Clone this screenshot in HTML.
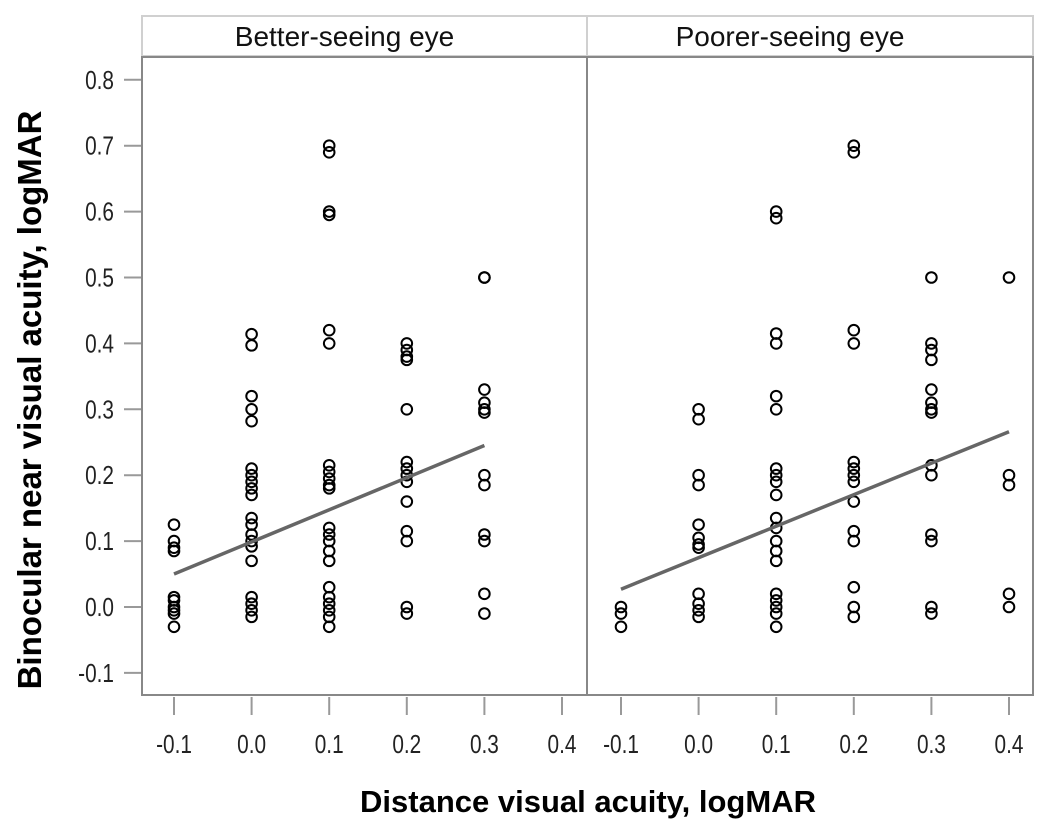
<!DOCTYPE html>
<html><head><meta charset="utf-8"><style>
html,body{margin:0;padding:0;background:#fff;}
svg{display:block;font-family:"Liberation Sans",sans-serif;}
</style></head><body>
<svg id="chart" width="1050" height="824" viewBox="0 0 1050 824">
<rect x="0" y="0" width="1050" height="824" fill="#fff"/>
<g id="g"></g>
</svg>
<script>
const yTicks=[0.8,0.7,0.6,0.5,0.4,0.3,0.2,0.1,0.0,-0.1];
const xTicks=[-0.1,0.0,0.1,0.2,0.3,0.4];
const panelTitles=["Better-seeing eye","Poorer-seeing eye"];
const betterX=[-0.1,-0.1,-0.1,-0.1,-0.1,-0.1,-0.1,-0.1,-0.1,-0.1,
0,0,0,0,0,0,0,0,0,0,0,0,0,0,0,0,0,0,0,0,
0.1,0.1,0.1,0.1,0.1,0.1,0.1,0.1,0.1,0.1,0.1,0.1,0.1,0.1,0.1,0.1,0.1,0.1,0.1,0.1,0.1,0.1,
0.2,0.2,0.2,0.2,0.2,0.2,0.2,0.2,0.2,0.2,0.2,0.2,0.2,0.2,
0.3,0.3,0.3,0.3,0.3,0.3,0.3,0.3,0.3,0.3,0.3,0.3];
const betterY=[0.125,0.1,0.09,0.085,0.015,0.01,0,-0.005,-0.01,-0.03,
0.414,0.397,0.32,0.30,0.282,0.21,0.2,0.19,0.18,0.17,0.135,0.125,0.11,0.1,0.092,0.07,0.015,0.005,-0.005,-0.015,
0.7,0.69,0.6,0.595,0.42,0.4,0.215,0.205,0.195,0.185,0.18,0.12,0.11,0.1,0.085,0.07,0.03,0.015,0.005,-0.005,-0.015,-0.03,
0.4,0.39,0.38,0.375,0.3,0.22,0.21,0.2,0.19,0.16,0.115,0.1,0.0,-0.01,
0.5,0.5,0.33,0.31,0.3,0.295,0.2,0.185,0.11,0.1,0.02,-0.01];
const poorerX=[-0.1,-0.1,-0.1,
0,0,0,0,0,0,0,0,0,0,0,0,
0.1,0.1,0.1,0.1,0.1,0.1,0.1,0.1,0.1,0.1,0.1,0.1,0.1,0.1,0.1,0.1,0.1,0.1,0.1,0.1,
0.2,0.2,0.2,0.2,0.2,0.2,0.2,0.2,0.2,0.2,0.2,0.2,0.2,0.2,
0.3,0.3,0.3,0.3,0.3,0.3,0.3,0.3,0.3,0.3,0.3,0.3,0.3,0.3,
0.4,0.4,0.4,0.4,0.4];
const poorerY=[0.0,-0.01,-0.03,
0.3,0.285,0.2,0.185,0.125,0.105,0.095,0.09,0.02,0.005,-0.005,-0.015,
0.6,0.59,0.415,0.4,0.32,0.30,0.21,0.2,0.19,0.17,0.135,0.12,0.1,0.085,0.07,0.02,0.01,0.0,-0.01,-0.03,
0.7,0.69,0.42,0.40,0.22,0.21,0.2,0.19,0.16,0.115,0.1,0.03,0.0,-0.015,
0.5,0.4,0.39,0.375,0.33,0.31,0.3,0.295,0.215,0.2,0.11,0.1,0.0,-0.01,
0.5,0.2,0.185,0.02,0.0];
const betterFit=[[-0.1,0.05],[0.3,0.245]];
const poorerFit=[[-0.1,0.027],[0.4,0.266]];

const NS="http://www.w3.org/2000/svg";
const g=document.getElementById('g');
function el(t,a,p){const e=document.createElementNS(NS,t);for(const k in a)e.setAttribute(k,a[k]);(p||g).appendChild(e);return e;}
const plotTop=57,plotBot=695;
function yS(v){return 607-v*659;}
const panels=[{x0:142,x1:587,xm:174,data:[betterX,betterY],fit:betterFit,name:'better'},
              {x0:587,x1:1033,xm:621,data:[poorerX,poorerY],fit:poorerFit,name:'poorer'}];
const xStep=77.6;
panels.forEach((p,pi)=>{
  const xS=v=>p.xm+(v+0.1)*10*xStep;
  const h=el('rect',{x:p.x0,y:16,width:p.x1-p.x0,height:40,fill:'#fff',stroke:'#d0d0d0','stroke-width':2});
  
  
  const t=el('text',{x:(p.x0+p.x1)/2-20,y:46,'text-anchor':'middle','font-size':28,fill:'#111'});
  t.textContent=panelTitles[pi];
  
  
  const r=el('rect',{x:p.x0,y:plotTop,width:p.x1-p.x0,height:plotBot-plotTop,fill:'none',stroke:'#888','stroke-width':2});
  
  
  xTicks.forEach(v=>{
    const tk=el('line',{x1:xS(v),x2:xS(v),y1:697,y2:715,stroke:'#999','stroke-width':2});
    
    
    const lb=el('text',{x:0,y:0,transform:`translate(${xS(v)},753) scale(0.8,1)`,'text-anchor':'middle','font-size':26,fill:'#222'});
    lb.textContent=v.toFixed(1);
    
    
  });
  const [xs,ys]=p.data;
  xs.forEach((xv,i)=>{
    const c=el('circle',{cx:xS(xv),cy:yS(ys[i]),r:5.3,fill:'none',stroke:'#000','stroke-width':2});
    
    
  });
  const f=el('line',{x1:xS(p.fit[0][0]),y1:yS(p.fit[0][1]),x2:xS(p.fit[1][0]),y2:yS(p.fit[1][1]),stroke:'#666','stroke-width':3.5});
  
  
});
yTicks.forEach(v=>{
  const tk=el('line',{x1:124,x2:141,y1:yS(v),y2:yS(v),stroke:'#999','stroke-width':2});
  
  
  const lb=el('text',{x:0,y:0,transform:`translate(114,${yS(v)+9}) scale(0.8,1)`,'text-anchor':'end','font-size':26,fill:'#222'});
  lb.textContent=v.toFixed(1);
  
  
});
const yt=el('text',{x:0,y:0,transform:'translate(41,400) rotate(-90)','text-anchor':'middle','font-size':33,'font-weight':'bold',fill:'#000'});
yt.textContent='Binocular near visual acuity, logMAR';


const xt=el('text',{x:588,y:812,'text-anchor':'middle','font-size':31,'font-weight':'bold',fill:'#000'});
xt.textContent='Distance visual acuity, logMAR';


</script>
</body></html>
